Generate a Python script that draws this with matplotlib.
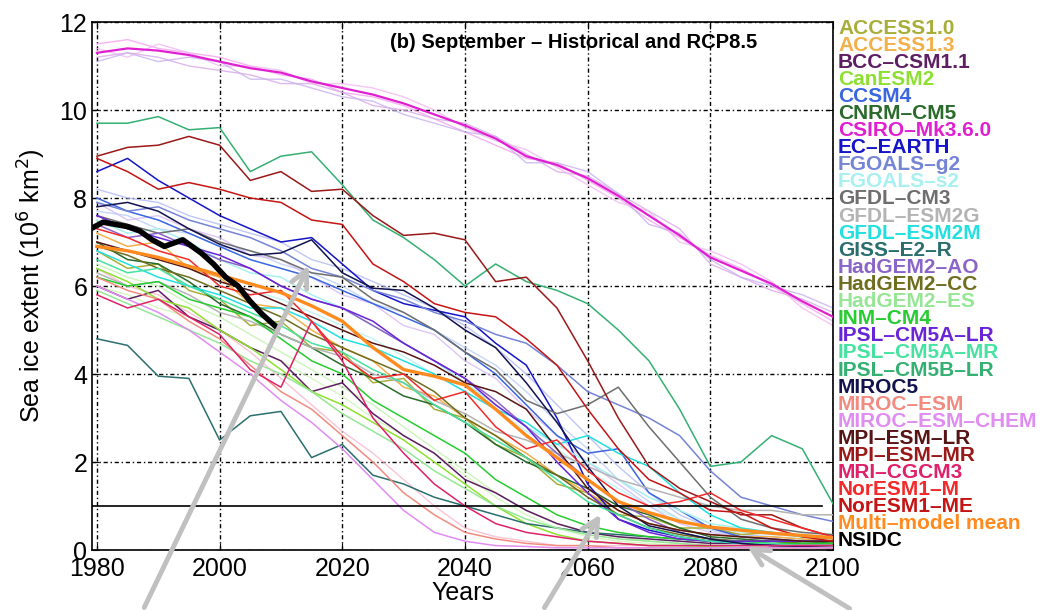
import matplotlib
matplotlib.use('Agg')
import matplotlib.pyplot as plt

plt.rcParams['font.family'] = ['Liberation Sans', 'DejaVu Sans']

# 5-year sampling of each model's September extent (10^6 km^2)
years = list(range(1980, 2101, 5))

access10 = [6.8, 6.4, 6.5, 5.9, 5.7, 5.1, 5.2, 4.6, 4.5, 3.8, 3.9, 3.2, 3.0, 2.4, 2.1, 1.5, 1.3, 0.8, 0.75, 0.5, 0.5, 0.35, 0.4, 0.3, 0.25]
access13 = [7.2, 6.9, 7.0, 6.4, 6.2, 5.6, 5.5, 5.0, 4.6, 4.3, 3.7, 3.5, 3.0, 2.6, 2.2, 1.7, 1.3, 0.9, 0.6, 0.45, 0.35, 0.3, 0.3, 0.25, 0.2]
bcc = [6.0, 5.7, 5.9, 5.3, 5.0, 4.6, 4.3, 3.6, 3.8, 3.1, 2.6, 2.2, 1.6, 1.3, 0.9, 0.6, 0.4, 0.3, 0.25, 0.2, 0.15, 0.15, 0.1, 0.1, 0.1]
canesm2 = [6.4, 6.1, 5.7, 5.5, 5.0, 4.6, 4.1, 3.6, 3.3, 2.9, 2.5, 2.0, 1.5, 1.0, 0.6, 0.35, 0.2, 0.15, 0.1, 0.1, 0.08, 0.05, 0.05, 0.05, 0.05]
ccsm4 = [8.0, 7.7, 7.5, 7.2, 6.9, 6.6, 6.4, 6.2, 5.9, 5.6, 5.3, 5.0, 4.5, 4.0, 3.3, 2.6, 2.2, 2.3, 1.3, 0.9, 0.5, 0.3, 0.25, 0.2, 0.2]
cnrm = [7.0, 6.6, 6.5, 6.1, 5.6, 5.3, 4.9, 4.6, 4.2, 3.9, 3.5, 3.3, 2.9, 2.4, 2.0, 1.7, 1.4, 1.0, 0.8, 0.5, 0.3, 0.25, 0.2, 0.2, 0.15]
csiro = [11.3, 11.4, 11.35, 11.25, 11.1, 10.95, 10.85, 10.65, 10.5, 10.35, 10.15, 9.9, 9.65, 9.35, 8.95, 8.75, 8.45, 8.05, 7.6, 7.15, 6.65, 6.35, 6.05, 5.65, 5.3]
csiro_m1 = [11.5, 11.6, 11.4, 11.3, 11.2, 11.0, 10.8, 10.7, 10.4, 10.3, 10.1, 9.8, 9.5, 9.2, 8.9, 8.8, 8.4, 8.0, 7.5, 7.1, 6.7, 6.4, 6.0, 5.6, 5.2]
csiro_m2 = [11.2, 11.3, 11.2, 11.0, 10.9, 10.8, 10.6, 10.6, 10.4, 10.1, 10.0, 9.8, 9.7, 9.4, 9.0, 8.6, 8.5, 8.1, 7.7, 7.3, 6.5, 6.2, 5.9, 5.7, 5.4]
csiro_m3 = [11.4, 11.2, 11.5, 11.3, 11.0, 11.0, 10.9, 10.6, 10.6, 10.5, 10.3, 10.0, 9.6, 9.3, 9.1, 8.7, 8.3, 7.9, 7.7, 7.0, 6.8, 6.5, 6.1, 5.5, 5.1]
csiro_m4 = [11.1, 11.3, 11.1, 11.2, 11.1, 10.7, 10.7, 10.5, 10.3, 10.2, 9.9, 9.7, 9.5, 9.4, 8.8, 8.8, 8.6, 8.1, 7.4, 7.2, 6.6, 6.2, 6.0, 5.8, 5.5]
ecearth = [8.6, 8.9, 8.4, 8.0, 7.6, 7.3, 7.0, 7.1, 6.5, 5.9, 5.6, 5.45, 5.3, 4.7, 4.2, 3.0, 1.5, 0.7, 0.45, 0.3, 0.2, 0.15, 0.12, 0.1, 0.1]
fgoals_g2 = [7.9, 7.7, 7.8, 7.5, 7.3, 7.1, 6.8, 6.4, 6.2, 5.9, 5.7, 5.4, 5.2, 4.9, 4.7, 4.2, 3.6, 3.3, 3.0, 2.6, 1.8, 1.2, 1.0, 0.8, 0.65]
fgoals_s2 = [7.5, 7.2, 7.3, 7.0, 6.6, 6.3, 6.2, 5.8, 5.5, 5.1, 4.7, 4.3, 3.8, 3.3, 2.8, 2.4, 2.0, 1.6, 1.2, 0.9, 0.6, 0.5, 0.4, 0.35, 0.3]
gfdl_cm3 = [7.6, 7.4, 7.2, 7.3, 7.0, 6.8, 6.6, 6.3, 6.2, 5.7, 5.4, 5.0, 4.5, 4.1, 3.4, 3.1, 3.3, 3.7, 2.8, 2.0, 1.2, 0.7, 0.5, 0.4, 0.35]
gfdl_esm2g = [6.3, 6.0, 6.1, 5.8, 5.4, 5.2, 4.9, 4.6, 4.4, 4.0, 3.8, 3.4, 3.1, 2.7, 2.5, 2.2, 1.9, 1.6, 1.4, 1.2, 1.0, 0.9, 0.9, 0.8, 0.8]
gfdl_esm2m = [6.8, 6.5, 6.2, 6.0, 5.8, 5.5, 5.5, 5.2, 4.8, 4.6, 4.3, 4.0, 3.6, 3.2, 2.9, 2.4, 2.6, 2.2, 1.9, 1.3, 0.8, 0.5, 0.4, 0.3, 0.3]
giss = [4.8, 4.65, 3.95, 3.9, 2.5, 3.05, 3.15, 2.1, 2.4, 1.7, 1.5, 1.2, 1.0, 0.8, 0.6, 0.5, 0.4, 0.35, 0.3, 0.25, 0.2, 0.2, 0.2, 0.15, 0.15]
hadgem_ao = [7.4, 7.1, 7.2, 6.9, 6.6, 6.4, 6.0, 5.7, 5.5, 5.1, 4.7, 4.3, 3.9, 3.4, 2.8, 2.2, 1.6, 1.1, 0.7, 0.4, 0.25, 0.2, 0.15, 0.1, 0.1]
hadgem_cc = [6.9, 6.7, 6.4, 6.2, 5.9, 5.6, 5.3, 4.9, 4.6, 4.3, 4.0, 3.6, 3.0, 2.6, 2.1, 1.7, 1.2, 0.8, 0.5, 0.35, 0.25, 0.2, 0.2, 0.15, 0.15]
hadgem_es = [5.9, 5.6, 5.3, 5.0, 4.7, 4.3, 4.0, 3.6, 3.1, 2.7, 2.3, 1.8, 1.4, 1.0, 0.7, 0.5, 0.35, 0.25, 0.2, 0.15, 0.1, 0.1, 0.1, 0.1, 0.1]
inm = [6.2, 6.0, 6.1, 5.7, 5.5, 5.3, 4.8, 4.3, 4.0, 3.4, 3.0, 2.6, 2.2, 1.6, 1.2, 0.8, 0.55, 0.4, 0.3, 0.25, 0.2, 0.2, 0.15, 0.15, 0.15]
ipsl_a_lr = [7.6, 7.3, 7.1, 6.9, 6.7, 6.4, 6.0, 5.7, 5.5, 5.2, 4.7, 4.3, 3.9, 3.3, 2.8, 2.0, 1.3, 0.7, 0.4, 0.25, 0.2, 0.2, 0.2, 0.2, 0.2]
ipsl_a_mr = [6.6, 6.3, 6.4, 6.0, 5.7, 5.4, 5.1, 4.7, 4.5, 4.1, 3.8, 3.3, 2.9, 2.5, 2.1, 1.6, 1.1, 0.8, 0.5, 0.3, 0.2, 0.15, 0.15, 0.1, 0.1]
ipsl_b_lr = [9.7, 9.7, 9.85, 9.55, 9.6, 8.6, 8.95, 9.05, 8.3, 7.5, 7.1, 6.6, 6.0, 6.5, 6.1, 5.9, 5.6, 5.0, 4.3, 3.2, 1.9, 2.0, 2.6, 2.3, 1.05]
miroc5 = [7.8, 7.9, 7.7, 7.3, 6.95, 6.7, 6.75, 7.05, 6.3, 5.95, 5.9, 5.5, 5.0, 4.6, 3.8, 2.9, 1.9, 1.0, 0.55, 0.4, 0.25, 0.15, 0.1, 0.08, 0.05]
miroc_esm = [6.2, 5.9, 5.7, 5.2, 4.8, 4.2, 3.6, 3.2, 2.6, 2.0, 1.3, 0.8, 0.4, 0.25, 0.15, 0.1, 0.1, 0.05, 0.05, 0.05, 0.05, 0.05, 0.05, 0.05, 0.05]
miroc_chem = [6.0, 5.7, 5.4, 5.0, 4.5, 4.0, 3.4, 2.9, 2.3, 1.6, 0.9, 0.4, 0.2, 0.1, 0.08, 0.05, 0.05, 0.05, 0.05, 0.05, 0.05, 0.05, 0.05, 0.05, 0.05]
mpi_lr = [7.0, 6.8, 6.6, 6.4, 6.1, 5.9, 5.6, 5.3, 5.0, 4.7, 4.5, 4.2, 3.8, 3.6, 3.2, 2.3, 1.4, 0.9, 0.6, 0.45, 0.35, 0.3, 0.25, 0.2, 0.2]
mpi_mr = [8.95, 9.15, 9.2, 9.4, 9.2, 8.4, 8.6, 8.15, 8.2, 7.6, 7.15, 7.2, 7.05, 6.1, 6.2, 5.5, 4.3, 3.0, 1.9, 1.4, 1.1, 0.8, 0.8, 0.5, 0.3]
mri = [5.8, 5.5, 5.7, 5.3, 4.9, 4.1, 3.7, 5.2, 4.3, 3.0, 2.2, 1.5, 1.0, 0.6, 0.4, 0.3, 0.2, 0.15, 0.1, 0.1, 0.1, 0.1, 0.1, 0.1, 0.1]
noresm_m = [7.3, 7.1, 6.8, 6.6, 6.0, 5.8, 5.9, 5.2, 4.4, 3.9, 4.0, 3.4, 3.6, 2.8, 2.3, 2.5, 1.8, 1.3, 1.0, 1.1, 1.3, 0.9, 0.7, 0.5, 0.3]
noresm_me = [8.9, 8.6, 8.2, 8.35, 8.2, 8.0, 7.9, 7.5, 7.4, 6.5, 6.1, 5.6, 5.4, 5.3, 4.8, 4.2, 3.2, 2.3, 1.6, 1.3, 0.9, 0.85, 0.5, 0.3, 0.2]
mmm = [6.9, 6.8, 6.65, 6.45, 6.25, 6.05, 5.85, 5.55, 5.2, 4.6, 4.1, 3.95, 3.75, 3.2, 2.6, 2.1, 1.6, 1.1, 0.85, 0.65, 0.52, 0.45, 0.38, 0.33, 0.28]

# pale individual ensemble members that form the background cloud
member_a = [8.2, 8.0, 7.9, 7.6, 7.4, 7.2, 7.0, 6.6, 6.4, 6.1, 5.8, 5.5, 5.1, 4.6, 4.0, 3.3, 2.6, 1.9, 1.3, 0.8, 0.5, 0.35, 0.3, 0.25, 0.2]
member_b = [7.7, 7.6, 7.3, 7.2, 6.9, 6.8, 6.5, 6.3, 6.0, 5.6, 5.4, 5.0, 4.6, 4.2, 3.6, 2.9, 2.3, 1.6, 1.1, 0.7, 0.45, 0.3, 0.25, 0.2, 0.2]
member_c = [6.5, 6.2, 6.0, 5.6, 5.3, 4.9, 4.5, 4.1, 3.7, 3.3, 2.8, 2.3, 1.8, 1.3, 0.9, 0.6, 0.4, 0.3, 0.2, 0.15, 0.1, 0.1, 0.1, 0.1, 0.1]
member_d = [6.0, 5.8, 5.5, 5.3, 5.0, 4.6, 4.3, 3.9, 3.5, 3.0, 2.6, 2.2, 1.7, 1.2, 0.8, 0.5, 0.3, 0.2, 0.15, 0.1, 0.1, 0.1, 0.1, 0.1, 0.1]
member_e = [6.4, 6.0, 5.8, 5.4, 5.0, 4.5, 3.9, 3.3, 2.7, 2.2, 1.6, 1.0, 0.5, 0.3, 0.2, 0.1, 0.1, 0.1, 0.1, 0.1, 0.1, 0.1, 0.1, 0.1, 0.1]
member_f = [7.0, 6.8, 6.6, 6.4, 6.1, 5.9, 5.7, 5.4, 5.1, 4.8, 4.4, 4.0, 3.6, 3.2, 2.7, 2.3, 1.8, 1.4, 1.0, 0.7, 0.5, 0.4, 0.35, 0.3, 0.3]
member_g = [7.9, 7.5, 7.6, 7.3, 7.1, 6.7, 6.6, 6.2, 5.8, 5.6, 5.1, 4.9, 4.3, 3.9, 3.2, 2.6, 2.0, 1.5, 1.0, 0.6, 0.4, 0.3, 0.25, 0.2, 0.2]

nsidc_years = [1979, 1981, 1983, 1985, 1987, 1989, 1991, 1993, 1994, 1995, 1997, 1999, 2001, 2003, 2005, 2007, 2009]
nsidc = [7.3, 7.45, 7.4, 7.35, 7.25, 7.05, 6.9, 7.0, 7.05, 6.95, 6.75, 6.5, 6.2, 6.0, 5.65, 5.35, 5.1]

labels = ['ACCESS1.0', 'ACCESS1.3', 'BCC\u2013CSM1.1', 'CanESM2', 'CCSM4', 'CNRM\u2013CM5',
          'CSIRO\u2013Mk3.6.0', 'EC\u2013EARTH', 'FGOALS\u2013g2', 'FGOALS\u2013s2', 'GFDL\u2013CM3',
          'GFDL\u2013ESM2G', 'GFDL\u2013ESM2M', 'GISS\u2013E2\u2013R', 'HadGEM2\u2013AO', 'HadGEM2\u2013CC',
          'HadGEM2\u2013ES', 'INM\u2013CM4', 'IPSL\u2013CM5A\u2013LR', 'IPSL\u2013CM5A\u2013MR',
          'IPSL\u2013CM5B\u2013LR', 'MIROC5', 'MIROC\u2013ESM', 'MIROC\u2013ESM\u2013CHEM',
          'MPI\u2013ESM\u2013LR', 'MPI\u2013ESM\u2013MR', 'MRI\u2013CGCM3', 'NorESM1\u2013M',
          'NorESM1\u2013ME', 'Multi\u2013model mean', 'NSIDC']
colors = ['#a8ae38', '#f2b04a', '#5e1e62', '#8ee030', '#3a66e0', '#2a6a2a',
          '#e020d0', '#1414c8', '#7484d6', '#a8f0f0', '#6e6e6e',
          '#b4b4b4', '#22e0e0', '#2a6e6e', '#8a64c8', '#6e6e1e',
          '#96e696', '#26cc30', '#6a24d8', '#46e2a0',
          '#34b072', '#12124e', '#f28a80', '#e08cf2',
          '#561414', '#9a1818', '#e0206a', '#f42a2a',
          '#c41414', '#ff8a1e', '#000000']
series = [access10, access13, bcc, canesm2, ccsm4, cnrm, csiro, ecearth, fgoals_g2, fgoals_s2,
          gfdl_cm3, gfdl_esm2g, gfdl_esm2m, giss, hadgem_ao, hadgem_cc, hadgem_es, inm,
          ipsl_a_lr, ipsl_a_mr, ipsl_b_lr, miroc5, miroc_esm, miroc_chem, mpi_lr, mpi_mr,
          mri, noresm_m, noresm_me]

fig = plt.figure(figsize=(10.48, 6.10), dpi=100)
ax = fig.add_axes([92/1048, 60/610, 741/1048, 528/610])

# faint ensemble members
for m, c in zip([csiro_m1, csiro_m2, csiro_m3, csiro_m4], ['#f4a0f0', '#d8a8e8', '#f0b8f0', '#c8b0f0']):
    ax.plot(years, m, color=c, lw=1.0, alpha=0.8, zorder=2)
for m, c in zip([member_a, member_b, member_c, member_d, member_e, member_f, member_g],
                ['#b0b8f4', '#b8ccf8', '#bff2a8', '#ccf4b4', '#f8b4cc', '#b4f0f0', '#d4b8f4']):
    ax.plot(years, m, color=c, lw=1.0, alpha=0.8, zorder=2)

for s, c in zip(series, colors):
    lw = 1.6 if s is csiro else 1.1
    ax.plot(years, s, color=c, lw=lw, zorder=3)

ax.plot(years, mmm, color=colors[29], lw=2.4, zorder=4)
ax.plot(nsidc_years, nsidc, color='k', lw=4, zorder=5)

ax.axhline(1, xmax=0.985, color='k', lw=1.2, zorder=6)

ax.set_xlim(1979.2, 2100)
ax.set_ylim(0, 12)
ax.set_xticks(range(1980, 2101, 20))
ax.set_yticks(range(0, 13, 2))
ax.grid(True, color='k', lw=1.0, linestyle=(0, (3, 2, 1, 2)))
ax.tick_params(direction='in', top=True, right=True, labelsize=18, length=5)
ax.tick_params(axis='x', pad=5)
for sp in ax.spines.values():
    sp.set_linewidth(1.2)
ax.set_xlabel('Years', fontsize=18, labelpad=0)
ax.set_ylabel('Sea ice extent (10$^6$ km$^2$)', fontsize=18, labelpad=8)

ax.text(0.402, 0.962, '(b) September \u2013 Historical and RCP8.5', transform=ax.transAxes,
        fontsize=14.5, fontweight='bold', ha='left', va='center', zorder=7)

# coloured model names to the right of the axes
for i, (lab, c) in enumerate(zip(labels, colors)):
    fig.text(838/1048, 1 - (28 + i * 17.1)/610, lab, color=c, fontsize=15,
             fontweight='bold', ha='left', va='center')

# grey pointer arrows
arrows = [((143, 0), (310, 347)), ((543, 0), (602, 98)), ((852, 0), (745, 65))]
for tail, tip in arrows:
    ax.annotate('', xy=tip, xytext=tail, xycoords='figure pixels', textcoords='figure pixels',
                annotation_clip=False, zorder=10,
                arrowprops=dict(arrowstyle='->,head_length=1.2,head_width=0.6',
                                color='#c0c0c0', lw=3.5))

fig.savefig('out.png', dpi=100)
